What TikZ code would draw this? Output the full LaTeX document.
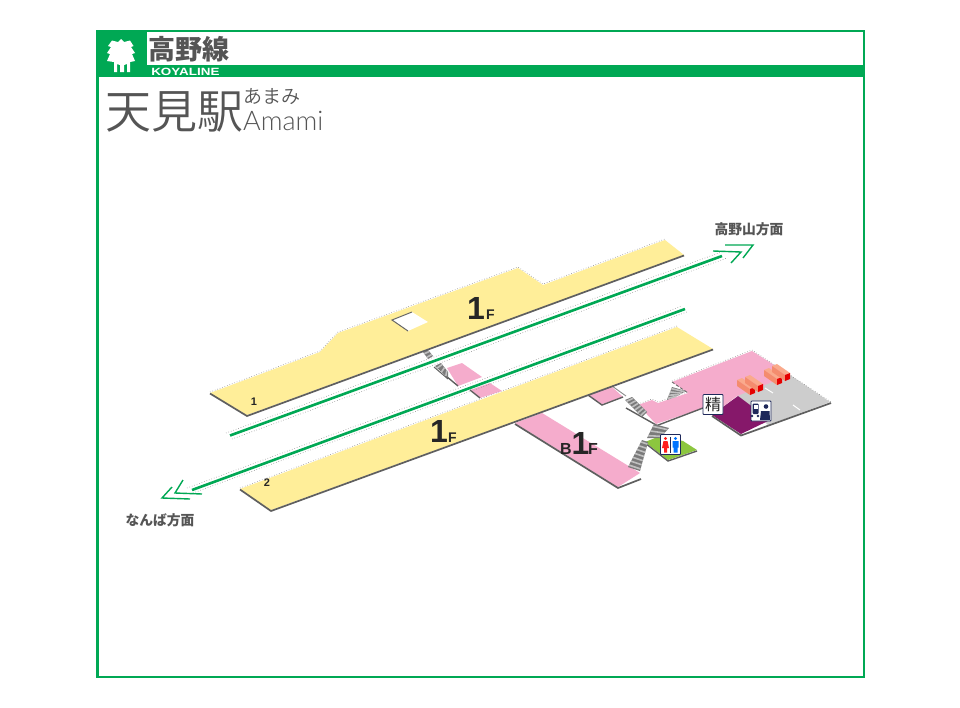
\documentclass[tikz,border=0pt]{standalone}
\usepackage{fontspec}
\usetikzlibrary{calc}
\setmainfont{Liberation Sans}
\newfontfamily\jp{Noto Sans CJK JP}
\newfontfamily\jpl{Noto Sans CJK JP DemiLight}
\newfontfamily\lgt{Lato Light}
\definecolor{grn}{RGB}{0,168,84}
\definecolor{plat}{RGB}{255,238,153}
\definecolor{pnk}{RGB}{245,172,204}
\definecolor{edg}{RGB}{95,95,95}
\definecolor{prp}{RGB}{134,24,106}
\definecolor{gry}{RGB}{205,205,205}
\definecolor{lawn}{RGB}{140,198,63}
\definecolor{salm}{RGB}{250,170,140}
\definecolor{salmd}{RGB}{244,140,110}
\definecolor{txt}{RGB}{85,85,85}
\definecolor{navy}{RGB}{30,40,90}
\newcommand{\stairband}[5]{%
 \fill[black!52] #1 -- #2 -- #3 -- #4 -- cycle;
 \foreach \k in {1,...,#5}{
  \pgfmathsetmacro{\ff}{(\k-0.5)/#5}
  \draw[black!25,line width=1.6pt] ($#1!\ff!#4$) -- ($#2!\ff!#3$);
 }}
\tikzset{
 x=1pt,y=-1pt,
 edge/.style={draw=edg,line width=1.7pt,line join=round},
 dots/.style={draw=black!45,line width=.6pt,dotted},
 track/.style={draw=grn,line width=2.6pt},
 chev/.style={draw=grn,line width=1.4pt,line join=miter},
 lab/.style={inner sep=0pt,anchor=center},
 icon/.style={draw=navy,fill=white,line width=.8pt,rounded corners=.8pt,minimum size=20pt,inner sep=0pt},
}
\begin{document}
\begin{tikzpicture}
\useasboundingbox (0,0) rectangle (960,707);
\fill[white] (0,0) rectangle (960,707);
% frame and header
\draw[grn,line width=2.4pt] (97.5,31) rectangle (864,677);
\fill[grn] (97,31) rectangle (147,77);
\fill[grn] (147,65) rectangle (864,77);
% tree mark
\fill[white] (121,39) -- (124,42) -- (130,40.5) -- (133.5,46) -- (131,47) -- (135,53) -- (132,54) -- (135,61) -- (130,62) -- (130,72) -- (127,72) -- (127,64) -- (124,65) -- (124,72) -- (120,72) -- (120,65) -- (117,64) -- (117,72) -- (114,72) -- (114,62) -- (107,61) -- (110,54) -- (107,53) -- (111,47) -- (108,46) -- (112,40.5) -- (118,42) -- cycle;
\node (linename) [lab,anchor=west,text=txt,font=\jp\bfseries\fontsize{27}{27}\selectfont] at (148,49) {高野線};
\node (lineen) [lab,anchor=west,white,xscale=1.28,font=\bfseries\fontsize{10.5}{11}\selectfont] at (151,72) {KOYALINE};
\node (station) [lab,anchor=west,text=txt,font=\jpl\fontsize{46}{46}\selectfont] at (105,112) {天見駅};
\node (kana) [lab,anchor=west,text=txt,font=\jpl\fontsize{19}{19}\selectfont] at (243,97) {あまみ};
\node (roman) [lab,anchor=west,text=txt,font=\lgt\fontsize{27}{27}\selectfont] at (243,121) {Amami};
% lower floor pink
\fill[pnk] (447,368) -- (462,363) -- (482,377) -- (458,386) -- cycle;
\fill[pnk] (470,390) -- (490,383) -- (502,391) -- (480,398) -- cycle;
\fill[pnk] (515,423) -- (542,413) -- (640,473) -- (618,487) -- cycle;
\draw[edg,line width=1.4pt] (446,376) -- (458,386);
\draw[edg,line width=1.4pt] (470,390) -- (480,398);
\draw[edg,line width=1.7pt] (515,424) -- (618,488) -- (641,479);
\fill[pnk] (588,395) -- (612,387) -- (623,397) -- (602,404) -- cycle;
\draw[edg,line width=1.4pt] (588,395) -- (602,405) -- (623,397);
% concourse
\fill[gry] (737,395) -- (790,375) -- (830,402) -- (768,425) -- cycle;
\fill[pnk] (672,382) -- (752,351) -- (790,375) -- (737,396) -- (712,415) -- (703,408) -- (656,424) -- (638,405) -- (652,400) -- (658,403) -- (688,393) -- cycle;
\fill[prp] (712,415) -- (738,396) -- (770,420) -- (741,434) -- cycle;
\draw[edg,line width=1.7pt] (712,416) -- (741,435.5) -- (831,403);
\draw[edg,line width=1.4pt] (626,408) -- (657,425.5) -- (703,408);
\draw[white,line width=1pt] (765,388) -- (773,393) (793,405) -- (800,410);
\draw[dots] (638,404) -- (652,399) -- (658,402) -- (688,392);
\draw[dots] (672,381) -- (752,350) -- (831,402);
\draw[black!60,line width=.9pt,densely dashed] (672,382) -- (688,393);
% toilets floor
\fill[lawn] (645,442) -- (660,436) -- (683,441) -- (697,450) -- (668,460) -- cycle;
\draw[edg,line width=1.4pt] (645,443) -- (668,461) -- (697,451);
% gates
\foreach \dx/\dy in {0/0,8/-3,27/-10,35/-14}{
 \fill[salm] (737+\dx,380+\dy) -- (742+\dx,378+\dy) -- (755+\dx,387+\dy) -- (750+\dx,389+\dy) -- cycle;
 \fill[salmd] (737+\dx,380+\dy) -- (750+\dx,389+\dy) -- (750+\dx,395+\dy) -- (737+\dx,386+\dy) -- cycle;
 \fill[red!90!black] (750+\dx,389+\dy) -- (755+\dx,387+\dy) -- (755+\dx,393+\dy) -- (750+\dx,395+\dy) -- cycle;
}
% stairs
\stairband{(667,400)}{(675,397)}{(686,391)}{(672,387)}{4}
\stairband{(625,400)}{(632,397)}{(647,412)}{(642,417)}{6}
\stairband{(628,467)}{(640,471)}{(648,442)}{(642,440)}{7}
\stairband{(647,438)}{(660,438)}{(669,428)}{(654,424)}{3}
\draw[black!45,line width=.9pt] (612,386) -- (626,396);
% footbridge stairs
\stairband{(423,352)}{(428,350)}{(433,356)}{(428,359)}{2}
\stairband{(435,366)}{(441,363)}{(448,372)}{(448,378)}{3}
\draw[edg,line width=1pt] (434,367) -- (448,379);
% tracks
\draw[dots] (226,433) -- (720,252.5);
\draw[dots] (232,439) -- (727,258);
\draw[track] (230,435.5) -- (722,256);
\draw[dots] (187,488) -- (682,306);
\draw[dots] (193,493) -- (688,311.5);
\draw[track] (192,490) -- (685,309);
\draw[chev] (713,251) -- (741,252) -- (731,263);
\draw[chev] (725,245) -- (753,245) -- (743,258);
\draw[chev] (183,480) -- (175,493) -- (202,494);
\draw[chev] (172,487) -- (162,498) -- (190,499);
% platforms
\fill[plat] (210,393) -- (320,352) -- (338,333) -- (518,268) -- (543,285) -- (665,240) -- (684,255) -- (247,415) -- cycle;
\draw[edge] (210,393.5) -- (247,416) -- (684,255.5);
\draw[dots] (210,392) -- (320,351) -- (338,332) -- (518,267) -- (543,284) -- (665,239);
\fill[white] (392,320) -- (412,312) -- (428,322) -- (408,331) -- cycle;
\draw[black!60,line width=1pt] (408,331) -- (392,320) -- (412,312);
\fill[plat] (240,489) -- (677,327) -- (713,349) -- (271,510) -- cycle;
\draw[edge] (240,489.5) -- (271,511) -- (713,349.5);
\draw[dots] (240,488) -- (677,326);
% floor labels
\node (f1a) [lab,anchor=base west,text=black!85,font=\bfseries\fontsize{32}{32}\selectfont] at (467,319) {1};
\node (f1af) [lab,anchor=base west,text=black!85,font=\bfseries\fontsize{14}{14}\selectfont] at (486,319) {F};
\node (f1b) [lab,anchor=base west,text=black!85,font=\bfseries\fontsize{32}{32}\selectfont] at (430,442) {1};
\node (f1bf) [lab,anchor=base west,text=black!85,font=\bfseries\fontsize{14}{14}\selectfont] at (448,442) {F};
\node (b1b) [lab,anchor=base west,text=black!85,font=\bfseries\fontsize{16}{16}\selectfont] at (560,454) {B};
\node (b1n) [lab,anchor=base west,text=black!85,font=\bfseries\fontsize{32}{32}\selectfont] at (571.5,454) {1};
\node (b1f) [lab,anchor=base west,text=black!85,font=\bfseries\fontsize{16}{16}\selectfont] at (588,454) {F};
\node (p1) [lab,text=black!85,font=\bfseries\fontsize{11}{11}\selectfont] at (254,402) {1};
\node (p2) [lab,text=black!85,font=\bfseries\fontsize{11}{11}\selectfont] at (267,483) {2};
\node (dirup) [lab,text=txt,font=\jp\bfseries\fontsize{13.8}{14}\selectfont] at (749,229) {高野山方面};
\node (dirdn) [lab,text=txt,font=\jp\bfseries\fontsize{13.8}{14}\selectfont] at (160,520) {なんば方面};
% icons
\node (seisan) [icon,font=\jp\fontsize{16}{16}\selectfont,text=black!85] at (713,404.5) {精};
\node (staff) [icon] at (761,411) {};
\fill[navy] (766,406.5) circle (2.3) (760,420) -- (761,411) -- (769.5,411) -- (770,420) -- cycle;
\fill[navy,rounded corners=1pt] (752.5,403.5) rectangle (758.5,414);
\fill[white] (753.5,405) rectangle (757.5,409);
\fill[navy] (752,416) circle (1.4) (758,416) circle (1.4);
\node (wc) [icon] at (670.5,444.5) {};
\fill[red!85!pink] (665.5,438.5) circle (1.7) (663.5,441) -- (667.5,441) -- (669,448) -- (667,448) -- (667,452.5) -- (664,452.5) -- (664,448) -- (662,448) -- cycle;
\fill[blue!55!cyan] (675.5,438.5) circle (1.7) (672.5,441) rectangle (678.5,447.5) (673.5,447.5) rectangle (677.5,452.5);
\draw[navy,line width=.8pt] (670.5,437) -- (670.5,453);
\end{tikzpicture}
\end{document}
